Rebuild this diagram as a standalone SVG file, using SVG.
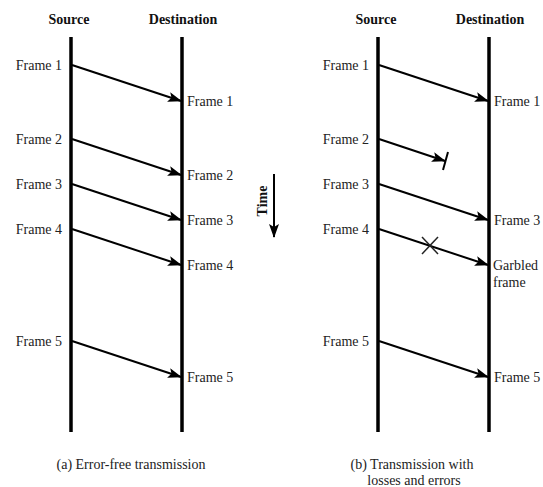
<svg xmlns="http://www.w3.org/2000/svg" width="543" height="487" viewBox="0 0 543 487">
<style>
.t{font-family:"Liberation Serif","Times New Roman",serif;font-size:14px;fill:#222}
.h{font-family:"Liberation Serif","Times New Roman",serif;font-size:14px;font-weight:bold;fill:#111}
.ll{stroke:#000;stroke-width:3.5}
.a{stroke:#000;stroke-width:2;fill:none;marker-end:url(#ah)}
.x{stroke:#222;stroke-width:1.5;fill:none}
</style>
<defs>
<marker id="ah" markerUnits="userSpaceOnUse" markerWidth="14" markerHeight="10" refX="13" refY="5" orient="auto" viewBox="0 0 14 10">
<path d="M0,0 L14,5 L0,10 L3,5 z" fill="#000"/>
</marker>
</defs>
<g id="headers">
<text class="h" x="69" y="24" text-anchor="middle">Source</text>
<text class="h" x="183" y="24" text-anchor="middle">Destination</text>
<text class="h" x="376" y="24" text-anchor="middle">Source</text>
<text class="h" x="490" y="24" text-anchor="middle">Destination</text>
</g>
<g id="lifelines">
<line class="ll" x1="71" y1="37" x2="71" y2="432"/>
<line class="ll" x1="182" y1="37" x2="182" y2="432"/>
<line class="ll" x1="378" y1="37" x2="378" y2="432"/>
<line class="ll" x1="489" y1="37" x2="489" y2="432"/>
</g>
<g id="connectors">
<line class="a" x1="72" y1="65" x2="181" y2="101"/>
<line class="a" x1="72" y1="139" x2="181" y2="175"/>
<line class="a" x1="72" y1="184" x2="181" y2="220"/>
<line class="a" x1="72" y1="229" x2="181" y2="265"/>
<line class="a" x1="72" y1="341" x2="181" y2="377"/>
<line class="a" x1="379" y1="65" x2="488" y2="101"/>
<line class="a" x1="379" y1="139" x2="445" y2="161"/>
<line class="a" x1="379" y1="184" x2="488" y2="220"/>
<line class="a" x1="379" y1="229" x2="488" y2="265"/>
<line class="a" x1="379" y1="341" x2="488" y2="377"/>
<line class="a" x1="274" y1="174" x2="274" y2="237"/>
</g>
<g id="marks">
<line x1="448" y1="152" x2="443" y2="170" stroke="#000" stroke-width="2"/>
<line class="x" x1="422" y1="237" x2="438" y2="254"/>
<line class="x" x1="438" y1="237" x2="422" y2="254"/>
</g>
<g id="labels-a">
<text class="t" x="62" y="70" text-anchor="end">Frame 1</text>
<text class="t" x="62" y="144" text-anchor="end">Frame 2</text>
<text class="t" x="62" y="189" text-anchor="end">Frame 3</text>
<text class="t" x="62" y="234" text-anchor="end">Frame 4</text>
<text class="t" x="62" y="346" text-anchor="end">Frame 5</text>
<text class="t" x="187" y="106">Frame 1</text>
<text class="t" x="187" y="180">Frame 2</text>
<text class="t" x="187" y="225">Frame 3</text>
<text class="t" x="187" y="270">Frame 4</text>
<text class="t" x="187" y="382">Frame 5</text>
</g>
<g id="labels-b">
<text class="t" x="369" y="70" text-anchor="end">Frame 1</text>
<text class="t" x="369" y="144" text-anchor="end">Frame 2</text>
<text class="t" x="369" y="189" text-anchor="end">Frame 3</text>
<text class="t" x="369" y="234" text-anchor="end">Frame 4</text>
<text class="t" x="369" y="346" text-anchor="end">Frame 5</text>
<text class="t" x="494" y="106">Frame 1</text>
<text class="t" x="494" y="225">Frame 3</text>
<text class="t" x="493" y="270">Garbled</text>
<text class="t" x="493" y="287">frame</text>
<text class="t" x="494" y="382">Frame 5</text>
</g>
<g id="time">
<text class="h" transform="translate(267,201) rotate(-90)" text-anchor="middle">Time</text>
</g>
<g id="captions">
<text class="t" x="131" y="469" text-anchor="middle">(a) Error-free transmission</text>
<text class="t" x="412" y="469" text-anchor="middle">(b) Transmission with</text>
<text class="t" x="414" y="485" text-anchor="middle">losses and errors</text>
</g>
</svg>
